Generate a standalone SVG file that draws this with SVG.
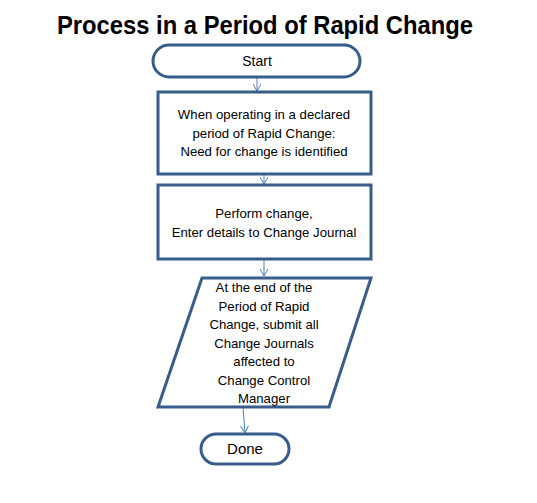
<svg xmlns="http://www.w3.org/2000/svg" width="537" height="503" viewBox="0 0 537 503">
<defs>
<style>
.shape{fill:#fff;stroke:#385D8A;stroke-width:3}
.t{font-family:"Liberation Sans",Arial,sans-serif;font-size:13.2px;fill:#000;text-anchor:middle}
.conn{stroke:#4F81BD;stroke-width:1;fill:none}
</style>
<marker id="ah" markerWidth="10" markerHeight="10" refX="8" refY="5" orient="auto" markerUnits="userSpaceOnUse">
<path d="M1,1 L8,5 L1,9" fill="none" stroke="#4F81BD" stroke-width="1"/>
</marker>
</defs>
<rect width="537" height="503" fill="#fff"/>
<text x="265" y="34" font-family="Liberation Sans,Arial,sans-serif" font-weight="bold" font-size="26" text-anchor="middle" textLength="416" lengthAdjust="spacingAndGlyphs">Process in a Period of Rapid Change</text>
<g id="connectors">
<line class="conn" x1="257" y1="77" x2="257" y2="91" marker-end="url(#ah)"/>
<line class="conn" x1="264" y1="174" x2="264" y2="184" marker-end="url(#ah)"/>
<line class="conn" x1="264" y1="259" x2="264" y2="276" marker-end="url(#ah)"/>
<line class="conn" x1="243" y1="407" x2="245" y2="433" marker-end="url(#ah)"/>
</g>
<g id="start">
<rect class="shape" x="153" y="45" width="207" height="32" rx="16" ry="16"/>
<text class="t" x="257" y="66" style="font-size:14px">Start</text>
</g>
<g id="identify">
<rect class="shape" x="158" y="92" width="213" height="82"/>
<text class="t" x="264" y="119">When operating in a declared</text>
<text class="t" x="264" y="138">period of Rapid Change:</text>
<text class="t" x="264" y="156">Need for change is identified</text>
</g>
<g id="perform">
<rect class="shape" x="158" y="185" width="213" height="74"/>
<text class="t" x="264" y="218">Perform change,</text>
<text class="t" x="264" y="237">Enter details to Change Journal</text>
</g>
<g id="submit">
<polygon class="shape" points="202,278 371,278 329,407 158,407"/>
<text class="t" x="264" y="292">At the end of the</text>
<text class="t" x="264" y="311">Period of Rapid</text>
<text class="t" x="264" y="329">Change, submit all</text>
<text class="t" x="264" y="348">Change Journals</text>
<text class="t" x="264" y="366">affected to</text>
<text class="t" x="264" y="385">Change Control</text>
<text class="t" x="264" y="403">Manager</text>
</g>
<g id="done">
<rect class="shape" x="201" y="434" width="88" height="30" rx="15" ry="15"/>
<text class="t" x="245" y="454" style="font-size:15px">Done</text>
</g>
</svg>
